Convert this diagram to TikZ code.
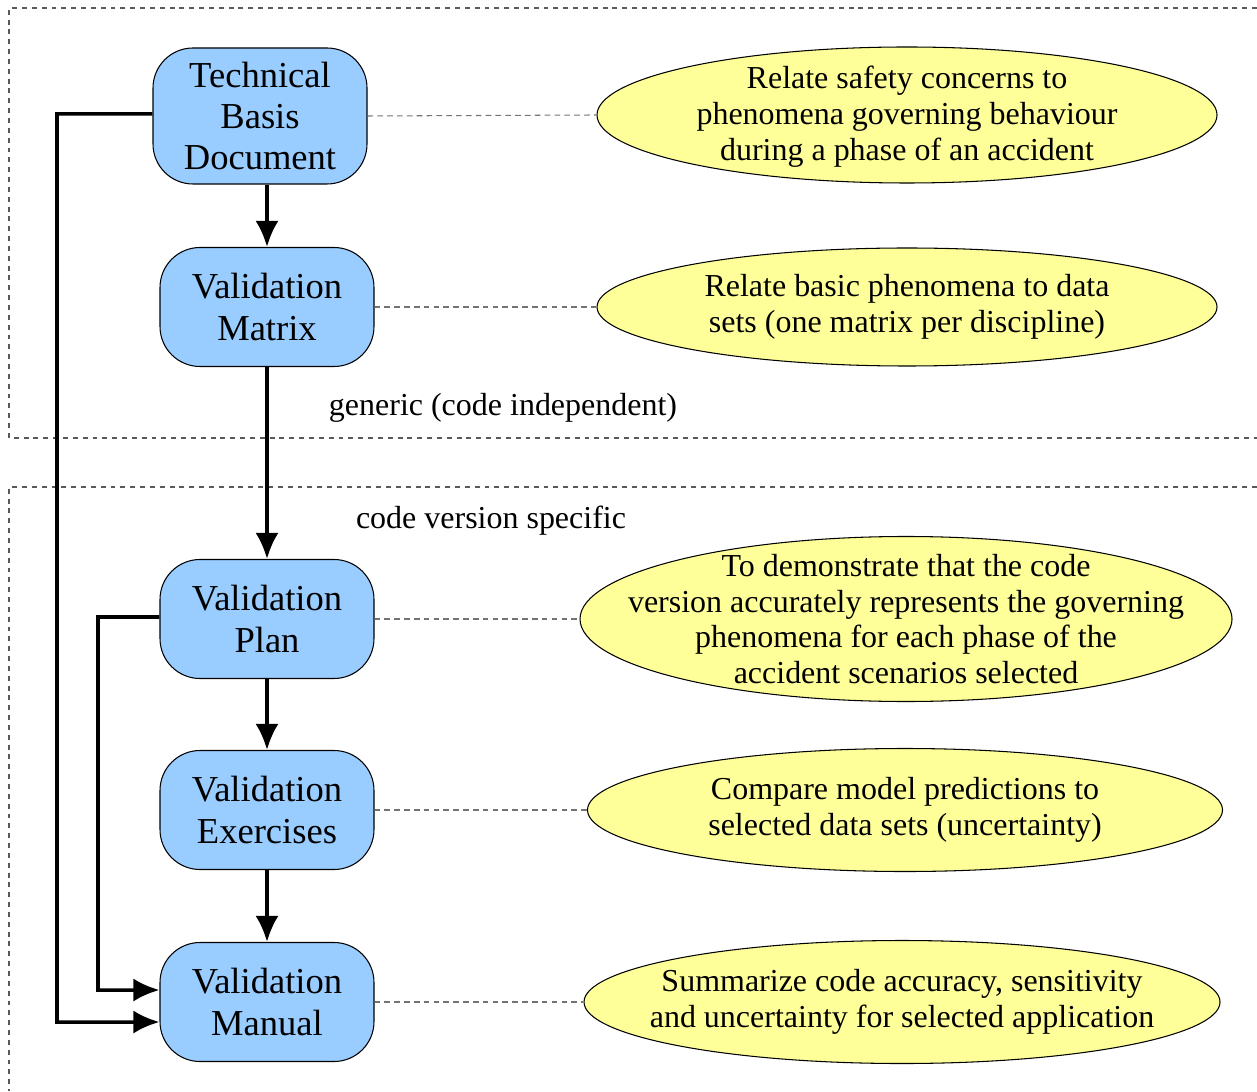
\documentclass[tikz,border=0pt]{standalone}
\usepackage{fontspec}
\setmainfont{Liberation Serif}
\usetikzlibrary{arrows.meta,shapes.geometric}
\definecolor{boxblue}{RGB}{153,204,255}
\definecolor{noteyellow}{RGB}{255,255,153}
\begin{document}
\begin{tikzpicture}[
    docbox/.style={draw, line width=0.3pt, fill=boxblue, rounded corners=0.4cm,
        minimum width=2.14cm, minimum height=1.19cm, inner sep=0pt, align=center,
        font=\fontsize{10.4}{11.7}\selectfont},
    note/.style={draw, line width=0.3pt, fill=noteyellow, ellipse, inner sep=0pt},
    notetext/.style={align=center, font=\fontsize{9.1}{10.2}\selectfont},
    flow/.style={line width=1pt, -{Latex[length=2.6mm,width=2.3mm]}},
    frame/.style={draw=black!65, line width=0.3pt, dash pattern=on 1.4pt off 1.4pt},
    link/.style={draw=black!55, line width=0.3pt, dash pattern=on 1.6pt off 1.2pt}]
    \useasboundingbox (0,0) rectangle (12.57,10.91);

    % dashed frames
    \draw[frame](12.57,10.83)--(0.09,10.83)--(0.09,6.53)--(12.57,6.53);
    \draw[frame](12.57,6.04)--(0.09,6.04)--(0.09,0);

    % documents
    \node[docbox, minimum height=1.36cm](tbd) at (2.60,9.75){Technical\\Basis\\Document};
    \node[docbox](vmat) at (2.67,7.84){Validation\\Matrix};
    \node[docbox](vplan) at (2.67,4.72){Validation\\Plan};
    \node[docbox](vex) at (2.67,2.81){Validation\\Exercises};
    \node[docbox](vman) at (2.67,0.89){Validation\\Manual};

    % notes
    \node[note, minimum width=6.20cm, minimum height=1.36cm](n1) at (9.07,9.76){};
    \node[notetext](t1) at ([yshift=-0.2mm]n1){Relate safety concerns to\\phenomena governing behaviour\\during a phase of an accident};
    \node[note, minimum width=6.20cm, minimum height=1.18cm](n2) at (9.07,7.84){};
    \node[notetext](t2) at (n2){Relate basic phenomena to data\\sets (one matrix per discipline)};
    \node[note, minimum width=6.52cm, minimum height=1.65cm](n3) at (9.06,4.72){};
    \node[notetext](t3) at (n3){To demonstrate that the code\\version accurately represents the governing\\phenomena for each phase of the\\accident scenarios selected};
    \node[note, minimum width=6.35cm, minimum height=1.23cm](n4) at (9.05,2.81){};
    \node[notetext](t4) at (n4){Compare model predictions to\\selected data sets (uncertainty)};
    \node[note, minimum width=6.36cm, minimum height=1.23cm](n5) at (9.02,0.89){};
    \node[notetext](t5) at (n5){Summarize code accuracy, sensitivity\\and uncertainty for selected application};

    \node[notetext](generic) at (5.03,6.83){generic (code independent)};
    \node[notetext](specific) at (4.91,5.70){code version specific};

    % dotted links
    \draw[link](tbd.east)--(n1.west);
    \draw[link](vmat.east)--(n2.west);
    \draw[link](vplan.east)--(n3.west);
    \draw[link](vex.east)--(n4.west);
    \draw[link](vman.east)--(n5.west);

    % flow
    \draw[flow](tbd.south -| vmat.north)--(vmat.north);
    \draw[flow](vmat)--(vplan);
    \draw[flow](vplan)--(vex);
    \draw[flow](vex)--(vman);
    \draw[flow]([yshift=0.2mm]tbd.west)-|(0.57,0.69)--([yshift=-2mm]vman.west);
    \draw[flow]([yshift=0.2mm]vplan.west)-|(0.98,1.01)--([yshift=1.2mm]vman.west);
\end{tikzpicture}
\end{document}
